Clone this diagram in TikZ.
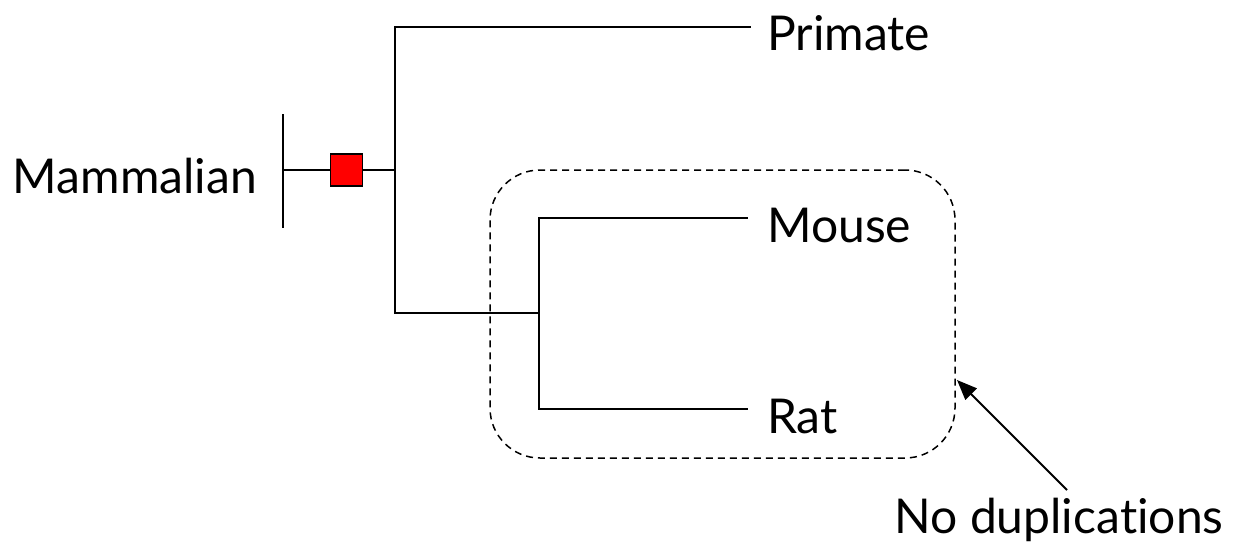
\documentclass[tikz,border=0pt]{standalone}
\usepackage{fontspec}
\setmainfont[Ligatures={NoCommon,NoDiscretionary}]{Lato}
\usetikzlibrary{arrows.meta}
\begin{document}
\begin{tikzpicture}[x=1pt,y=-1pt,
  branch/.style={line width=1.8pt,line cap=rect},
  label/.style={font=\fontsize{48}{56}\selectfont,inner sep=0pt,anchor=west},
  dupbox/.style={draw,dash pattern=on 7pt off 5pt,line width=1.5pt,rounded corners=50pt},
  event/.style={draw,line width=1.5pt,fill=red,minimum size=32pt,inner sep=0pt},
  pointer/.style={line width=1.8pt,-{Triangle[length=20pt,width=16pt]}}]
\useasboundingbox (0,0) rectangle (1238,549);
% root and its stem
\coordinate (rootL) at (283,170);
\coordinate (rootTop) at (283,115);
\coordinate (rootBot) at (283,227);
\coordinate (split) at (395,170);
\node[label,anchor=east] (mam) at (257,176) {Mammalian};
\draw[branch] (rootTop) -- (rootBot);
\draw[branch] (rootL) -- (split);
\node[event] (dup) at (346.5,170) {};
% first split: primate vs rodents
\coordinate (s1top) at (395,27);
\coordinate (s1bot) at (395,313);
\coordinate (primEnd) at (750,27);
\coordinate (rod) at (539,313);
\draw[branch] (primEnd) -- (s1top) -- (s1bot) -- (rod);
\node[label] (primate) at (767,33) {Primate};
% rodent split
\coordinate (rtop) at (539,218);
\coordinate (rbot) at (539,409);
\coordinate (mouseEnd) at (747,218);
\coordinate (ratEnd) at (747,409);
\draw[branch] (mouseEnd) -- (rtop) -- (rbot) -- (ratEnd);
\node[label] (mouse) at (767,225) {Mouse};
\node[label] (rat) at (767,416) {Rat};
% rodent clade without duplications
\node[dupbox,minimum width=465pt,minimum height=288pt] (clade) at (722.5,314) {};
\node[label,anchor=center] (note) at (1059,520) {No duplications};
\coordinate (tip) at (957,380);
\draw[pointer] (1067,490) -- (tip);
\end{tikzpicture}
\end{document}
